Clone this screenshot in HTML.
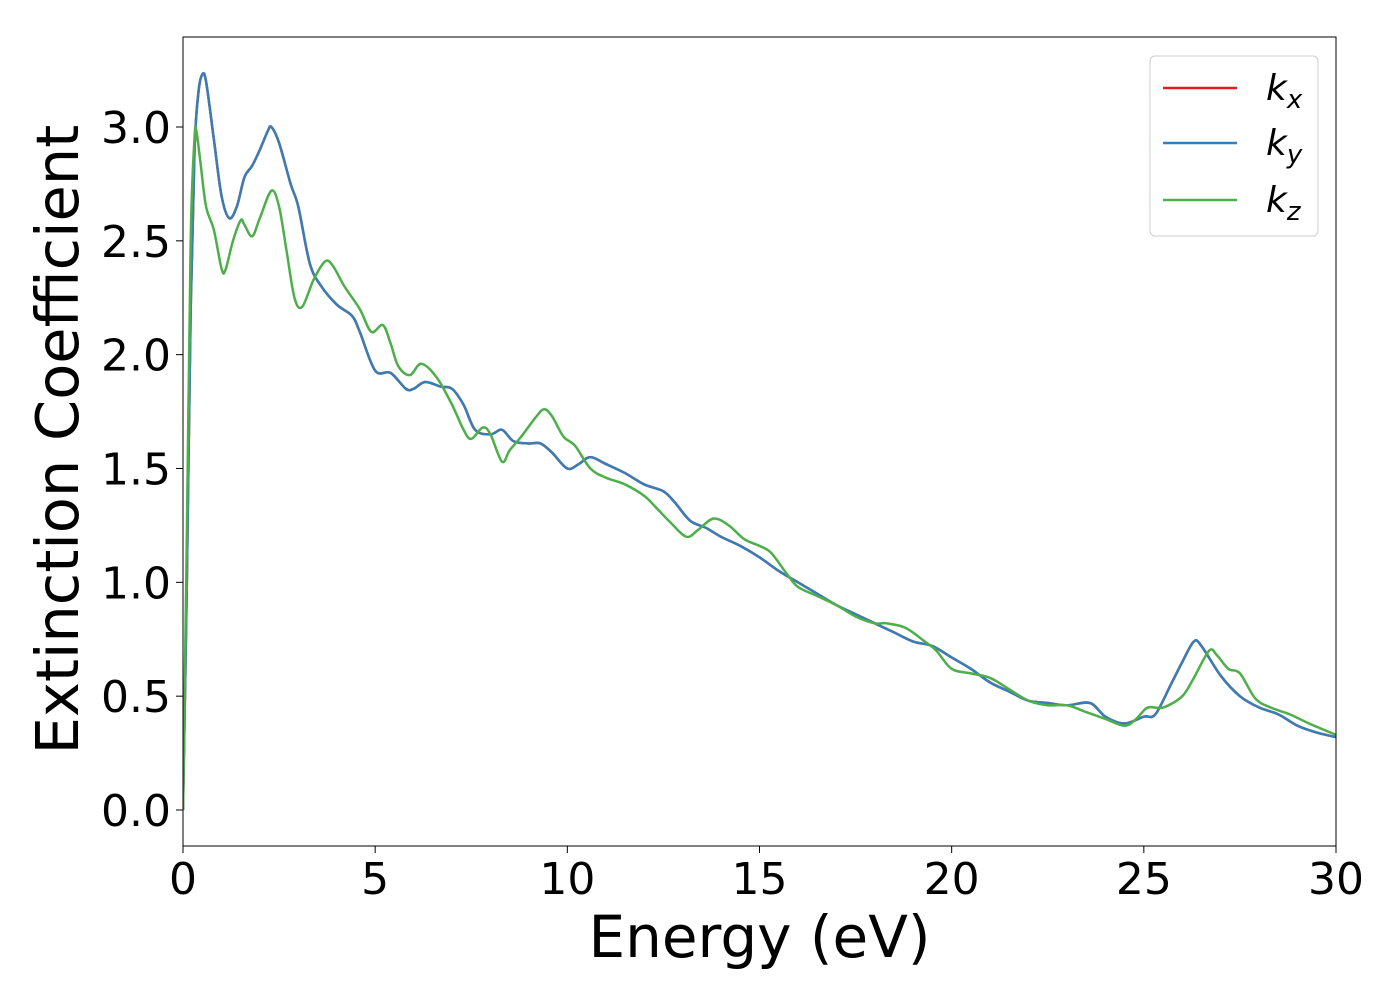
<!DOCTYPE html>
<html><head><meta charset="utf-8"><style>
body{margin:0;background:#fff}
text{font-family:"DejaVu Sans","Liberation Sans",sans-serif}
</style></head><body>
<svg id="c" width="1400" height="1000" xmlns="http://www.w3.org/2000/svg"></svg>
<script>
const xTicks=[0,5,10,15,20,25,30];
const yTicks=[0.0,0.5,1.0,1.5,2.0,2.5,3.0];
const kxyE=[0,0.1,0.2,0.3,0.4,0.5,0.6,0.8,1.0,1.2,1.4,1.6,1.8,2.0,2.2,2.3,2.5,2.8,3.0,3.3,3.6,4.0,4.4,4.6,5.0,5.4,5.8,6.0,6.3,6.7,7.0,7.3,7.6,8.0,8.3,8.6,9.0,9.3,9.6,10.0,10.3,10.6,11,11.5,12,12.5,12.8,13.2,13.6,14,14.5,15,15.5,16,16.5,17,17.5,18,18.5,19,19.5,20,20.5,21,21.5,22,22.5,23,23.6,24,24.5,25,25.3,25.7,26,26.3,26.5,27,27.5,28,28.5,29,29.5,30];
const kxyV=[0,1.0,2.2,2.9,3.15,3.23,3.2,2.95,2.7,2.6,2.65,2.78,2.83,2.9,2.98,3.0,2.93,2.75,2.65,2.4,2.3,2.22,2.17,2.1,1.93,1.92,1.85,1.85,1.88,1.86,1.85,1.78,1.67,1.65,1.67,1.62,1.61,1.61,1.57,1.5,1.52,1.55,1.52,1.48,1.43,1.4,1.35,1.27,1.24,1.2,1.16,1.11,1.05,1.0,0.95,0.9,0.86,0.82,0.78,0.74,0.72,0.67,0.62,0.56,0.52,0.48,0.47,0.46,0.47,0.41,0.38,0.41,0.42,0.55,0.65,0.74,0.72,0.59,0.5,0.45,0.42,0.37,0.34,0.32];
const kzE=[0,0.1,0.2,0.3,0.35,0.45,0.6,0.8,1.0,1.1,1.3,1.5,1.6,1.8,2.0,2.3,2.5,2.7,2.9,3.1,3.4,3.7,3.9,4.2,4.6,4.9,5.2,5.4,5.6,5.9,6.2,6.6,7.0,7.3,7.5,7.8,8.0,8.3,8.5,8.8,9.2,9.4,9.6,9.9,10.2,10.6,11,11.5,12,12.3,12.7,13.1,13.4,13.8,14.2,14.6,15,15.3,15.7,16,16.5,17,17.5,18,18.3,18.8,19.3,19.6,20,20.5,21,21.5,22,22.5,23,23.5,24,24.5,24.8,25.1,25.5,26,26.3,26.7,26.9,27.2,27.5,27.9,28.3,28.8,29.3,30];
const kzV=[0,1.2,2.5,2.95,2.98,2.85,2.65,2.55,2.38,2.37,2.5,2.59,2.57,2.52,2.6,2.72,2.65,2.45,2.25,2.21,2.33,2.41,2.39,2.3,2.2,2.1,2.13,2.05,1.95,1.91,1.96,1.9,1.78,1.67,1.63,1.68,1.65,1.53,1.58,1.64,1.73,1.76,1.73,1.64,1.6,1.5,1.46,1.43,1.38,1.33,1.26,1.2,1.23,1.28,1.25,1.19,1.16,1.13,1.04,0.98,0.94,0.9,0.85,0.82,0.82,0.8,0.74,0.7,0.62,0.6,0.58,0.53,0.48,0.46,0.46,0.43,0.4,0.37,0.4,0.45,0.45,0.5,0.58,0.7,0.68,0.62,0.6,0.49,0.45,0.42,0.38,0.33];
const NS="http://www.w3.org/2000/svg";
const svg=document.getElementById('c');
const L=183,R=1336,T=37,B=846;
const sx=v=>L+(v-0)/30*(R-L);
const sy=v=>810-v*(810-127)/3;
function el(t,a,p){const e=document.createElementNS(NS,t);for(const k in a)e.setAttribute(k,a[k]);(p||svg).appendChild(e);return e;}
const defs=el('defs',{});const cp=el('clipPath',{id:'pc'},defs);el('rect',{x:L,y:T,width:R-L,height:B-T},cp);
function path(E,V,col,name){
  const pts=E.map((e,i)=>[sx(e),sy(V[i])]);
  let d='M'+pts[0][0]+','+pts[0][1];
  for(let i=0;i<pts.length-1;i++){
    const p0=pts[Math.max(0,i-1)],p1=pts[i],p2=pts[i+1],p3=pts[Math.min(pts.length-1,i+2)];
    const c1=[p1[0]+(p2[0]-p0[0])/6,p1[1]+(p2[1]-p0[1])/6],c2=[p2[0]-(p3[0]-p1[0])/6,p2[1]-(p3[1]-p1[1])/6];
    d+=`C${c1[0]},${c1[1]} ${c2[0]},${c2[1]} ${p2[0]},${p2[1]}`;
  }
  const p=el('path',{d:d,fill:'none',stroke:col,'stroke-width':2.5,'clip-path':'url(#pc)'});
  
  
}
path(kxyE,kxyV,'#e41a1c','kx-line');
path(kxyE,kxyV,'#377eb8','ky-line');
path(kzE,kzV,'#4daf4a','kz-line');
el('rect',{x:L,y:T,width:R-L,height:B-T,fill:'none',stroke:'#000','stroke-width':1});
xTicks.forEach(v=>{const x=sx(v);el('line',{x1:x,x2:x,y1:B,y2:B+7,stroke:'#000'});
  const t=el('text',{x:x,y:B+48,'font-size':44,'text-anchor':'middle'});t.textContent=v;
  });
yTicks.forEach(v=>{const y=sy(v);el('line',{x1:L-7,x2:L,y1:y,y2:y,stroke:'#000'});
  const t=el('text',{x:L-12,y:y+16,'font-size':44,'text-anchor':'end'});t.textContent=v.toFixed(1);
  });
const xt=el('text',{x:(L+R)/2,y:957,'font-size':58,'text-anchor':'middle',});xt.textContent='Energy (eV)';
const yt=el('text',{x:0,y:0,'font-size':59,'text-anchor':'middle',transform:`translate(78,${(T+B)/2-2}) rotate(-90)`,});yt.textContent='Extinction Coefficient';
const lg=el('g',{});
el('rect',{x:1150,y:56,width:168,height:180,rx:5,fill:'#fff',stroke:'#ccc','stroke-width':1},lg);
[['#e41a1c','x',88],['#377eb8','y',143],['#4daf4a','z',200]].forEach(([c,s,y])=>{
  const g=el('g',{},lg);
  el('line',{x1:1163,x2:1237,y1:y,y2:y,stroke:c,'stroke-width':2.5},g);
  const t=el('text',{x:1266,y:y+12,'font-size':36,'font-style':'italic'},g);
  t.textContent='k';const ts=el('tspan',{'font-size':26,dy:8},t);ts.textContent=s;
});
</script>
</body></html>
